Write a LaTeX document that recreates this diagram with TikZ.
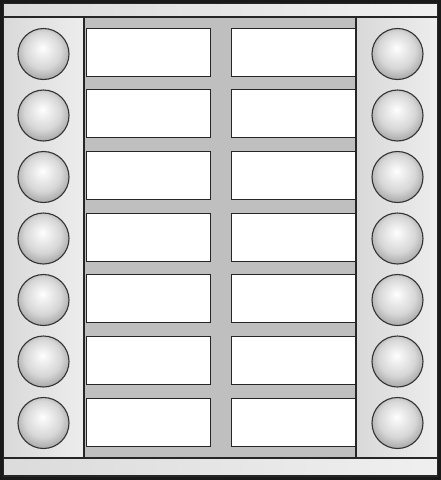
\documentclass[tikz,border=0pt]{standalone}
\pgfdeclareradialshading{btnshade}{\pgfpoint{-1bp}{6bp}}{%
  color(0bp)=(white);
  color(3bp)=(white!97!black);
  color(18bp)=(black!16);
  color(31bp)=(black!40);
  color(50bp)=(black!42)}
\tikzset{
  panel/.style={draw=black!85, line width=1.6pt},
  column/.style={panel, left color=black!15, right color=black!7},
  bar/.style={panel, left color=black!14, right color=black!6},
  label/.style={draw=black!85, line width=0.9pt, fill=white, minimum width=124pt, minimum height=48pt, inner sep=0pt},
  button/.style={circle, draw=black!80, line width=1.1pt, minimum size=51pt, inner sep=0pt, shading=btnshade}
}
\begin{document}
\begin{tikzpicture}[x=1pt,y=-1pt]
\useasboundingbox (0,0) rectangle (441,480);
% outer frame
\draw[line width=3pt, draw=black!90, fill=black!12] (1.5,1.5) rectangle (439.5,478.5);
% middle gray area
\fill[black!25] (84,17) rectangle (356,458);
% top and bottom bars
\draw[bar] (3,3) rectangle (438,17);
\draw[bar] (3,458) rectangle (438,476);
% columns
\draw[column] (3,17) rectangle (84,458);
\draw[column] (356,17) rectangle (438,458);
% re-stroke outer frame
\draw[line width=3pt, draw=black!90] (1.5,1.5) rectangle (439.5,478.5);
% labels and buttons
\foreach \i in {0,...,6}{
  \pgfmathsetmacro{\yy}{52+61.7*\i}
  \node[label] (l\i) at (148,\yy) {};
  \node[label] (r\i) at (293,\yy) {};
  \pgfmathsetmacro{\yb}{54+61.5*\i}
  \node[button] (bl\i) at (43.5,\yb) {};
  \node[button] (br\i) at (397.5,\yb) {};
}
\end{tikzpicture}
\end{document}
